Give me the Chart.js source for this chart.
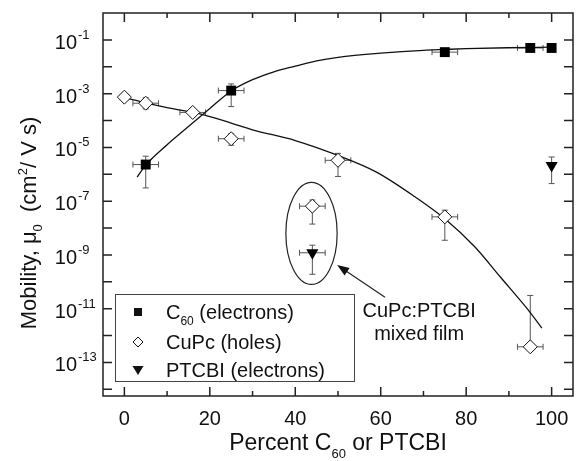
<!DOCTYPE html>
<html lang="en">
<head>
    <meta charset="UTF-8">
    <title>Mobility vs Percent C60 or PTCBI</title>
    <script src="https://cdn.jsdelivr.net/npm/chart.js"></script>
    <style>
        body, html { margin: 0; padding: 0; background: #fff; }
    </style>
</head>
<body>
    <canvas id="mobilityChart" width="581" height="461"></canvas>

    <script>
        // measured points (x = percent, y = mobility cm2/Vs)
        const c60X    = [5, 25, 75, 95, 100];
        const c60Y    = [2.3e-6, 1.3e-3, 0.035, 0.05, 0.05];
        const c60Lo   = [3.1e-7, 3.3e-4, null, null, null];
        const c60Hi   = [4.7e-6, 2.3e-3, null, null, null];
        const c60XErr = [3, 3, 3, 3, 0];

        const cupcX    = [0, 5, 16, 25, 44, 50, 75, 95];
        const cupcY    = [7.4e-4, 4.4e-4, 2.0e-4, 2.1e-5, 6.5e-8, 3.3e-6, 2.6e-8, 3.8e-13];
        const cupcLo   = [5.5e-4, 2.7e-4, 1.4e-4, 1.2e-5, 1.4e-8, 8.3e-7, 3.5e-9, null];
        const cupcHi   = [1.0e-3, 7.0e-4, 2.6e-4, 3.2e-5, 1.1e-7, 6.0e-6, 4.6e-8, 3.1e-11];
        const cupcXErr = [1, 3, 3, 3, 3, 3, 3, 3];

        const ptcbiX    = [44, 100];
        const ptcbiY    = [1.2e-9, 2.1e-6];
        const ptcbiLo   = [1.9e-10, 4.5e-7];
        const ptcbiHi   = [2.3e-9, 4.4e-6];
        const ptcbiXErr = [3, 0];

        // fit curves
        const c60FitX = [3, 5, 10, 15, 20, 25, 30, 35, 40, 45, 50, 60, 70, 75, 80, 90, 100];
        const c60FitY = [7.9e-7, 2.2e-6, 1.26e-5, 6.0e-5, 2.8e-4, 1.26e-3, 3.3e-3, 6.5e-3, 1.05e-2, 1.66e-2, 2.24e-2, 3.2e-2, 4.1e-2, 4.4e-2, 4.7e-2, 5.1e-2, 5.4e-2];
        const cupcFitX = [0, 5, 10, 17.5, 25, 30, 40, 50, 59, 68, 75, 82, 88, 94.5, 97.7];
        const cupcFitY = [7.1e-4, 4.5e-4, 3.0e-4, 1.8e-4, 8.0e-5, 4.5e-5, 1.8e-5, 5.0e-6, 1.2e-6, 1.45e-7, 2.2e-8, 2.0e-9, 1.5e-10, 9.0e-12, 1.9e-12];

        const xTicks = [0, 20, 40, 60, 80, 100];
        const yTickExp = [-1, -3, -5, -7, -9, -11, -13];

        // mixed film annotation (data coords)
        const ellipse = { x: 43.8, logY: -8.2, rx: 6, ry: 1.9 };
        const arrow = { x1: 61, y1: 10 ** -10.58, x2: 49.8, y2: 10 ** -9.38 };
        const noteLines = ['CuPc:PTCBI', 'mixed film'];
        const noteAt = [{ x: 69, y: 10 ** -11.05 }, { x: 69, y: 10 ** -11.9 }];

        const FONT = '"Liberation Sans", Arial, sans-serif';
        const pts = (xs, ys) => xs.map((x, i) => ({ x: x, y: ys[i] }));

        function runs(ctx, list, x, y, align) {
            let total = 0;
            list.forEach(r => { ctx.font = r[1] + 'px ' + FONT; total += ctx.measureText(r[0]).width; });
            let cx = align === 'center' ? x - total / 2 : (align === 'right' ? x - total : x);
            ctx.textAlign = 'left';
            ctx.textBaseline = 'alphabetic';
            list.forEach(r => {
                ctx.font = r[1] + 'px ' + FONT;
                ctx.fillText(r[0], cx, y + (r[2] || 0));
                cx += ctx.measureText(r[0]).width;
            });
        }

        const errorBars = {
            id: 'errorBars',
            beforeDatasetsDraw(chart) {
                const ctx = chart.ctx, xs = chart.scales.x, ys = chart.scales.y;
                ctx.save();
                ctx.strokeStyle = '#555';
                ctx.lineWidth = 1;
                const cap = 3;
                const groups = [
                    [c60X, c60Y, c60Lo, c60Hi, c60XErr],
                    [cupcX, cupcY, cupcLo, cupcHi, cupcXErr],
                    [ptcbiX, ptcbiY, ptcbiLo, ptcbiHi, ptcbiXErr]
                ];
                ctx.beginPath();
                groups.forEach(([X, Y, Lo, Hi, XE]) => {
                    X.forEach((xv, i) => {
                        const px = xs.getPixelForValue(xv), py = ys.getPixelForValue(Y[i]);
                        if (Lo[i] !== null) {
                            const a = ys.getPixelForValue(Hi[i]), b = ys.getPixelForValue(Lo[i]);
                            ctx.moveTo(px, a); ctx.lineTo(px, b);
                            ctx.moveTo(px - cap, a); ctx.lineTo(px + cap, a);
                            ctx.moveTo(px - cap, b); ctx.lineTo(px + cap, b);
                        } else if (Hi[i] !== null) {
                            const a = ys.getPixelForValue(Hi[i]);
                            ctx.moveTo(px, a); ctx.lineTo(px, py);
                            ctx.moveTo(px - cap, a); ctx.lineTo(px + cap, a);
                        }
                        if (XE[i]) {
                            const l = xs.getPixelForValue(xv - XE[i]), r = xs.getPixelForValue(xv + XE[i]);
                            ctx.moveTo(l, py); ctx.lineTo(r, py);
                            ctx.moveTo(l, py - cap); ctx.lineTo(l, py + cap);
                            ctx.moveTo(r, py - cap); ctx.lineTo(r, py + cap);
                        }
                    });
                });
                ctx.stroke();
                ctx.restore();
            }
        };

        const decorations = {
            id: 'decorations',
            afterDraw(chart) {
                const ctx = chart.ctx, a = chart.chartArea, xs = chart.scales.x, ys = chart.scales.y;
                ctx.save();
                ctx.fillStyle = '#111';
                ctx.strokeStyle = '#222';

                // frame and inward ticks
                ctx.lineWidth = 1.5;
                ctx.strokeRect(a.left, a.top, a.right - a.left, a.bottom - a.top);
                ctx.beginPath();
                for (let v = 0; v <= 100; v += 10) {
                    const px = xs.getPixelForValue(v), len = v % 20 === 0 ? 9 : 5;
                    ctx.moveTo(px, a.bottom); ctx.lineTo(px, a.bottom - len);
                    ctx.moveTo(px, a.top); ctx.lineTo(px, a.top + len);
                }
                for (let e = -14; e <= -1; e++) {
                    const py = ys.getPixelForValue(10 ** e);
                    ctx.moveTo(a.left, py); ctx.lineTo(a.left + 9, py);
                    ctx.moveTo(a.right, py); ctx.lineTo(a.right - 9, py);
                }
                ctx.stroke();

                // tick labels
                xTicks.forEach(v => runs(ctx, [[String(v), 20]], xs.getPixelForValue(v), 425, 'center'));
                yTickExp.forEach(e => {
                    const py = ys.getPixelForValue(10 ** e);
                    runs(ctx, [['10', 20]], 77, py + 9, 'right');
                    runs(ctx, [['-' + Math.abs(e), 13]], 78, py - 1, 'left');
                });

                // axis titles
                runs(ctx, [['Percent C', 23], ['60', 13, 8], [' or PTCBI', 23]], (a.left + a.right) / 2, 450, 'center');
                ctx.save();
                ctx.translate(36, 223);
                ctx.rotate(-Math.PI / 2);
                runs(ctx, [['Mobility, \u03bc', 22], ['0', 13, 6], ['  (cm', 22], ['2', 13, -9], ['/ V s)', 22]], 0, 0, 'center');
                ctx.restore();

                // ellipse around mixed film points
                ctx.lineWidth = 1.2;
                const ecx = xs.getPixelForValue(ellipse.x), ecy = ys.getPixelForValue(10 ** ellipse.logY);
                const erx = xs.getPixelForValue(ellipse.x + ellipse.rx) - ecx;
                const ery = ecy - ys.getPixelForValue(10 ** (ellipse.logY + ellipse.ry));
                ctx.beginPath();
                ctx.ellipse(ecx, ecy, erx, ery, 0, 0, Math.PI * 2);
                ctx.stroke();

                // arrow
                const x1 = xs.getPixelForValue(arrow.x1), y1 = ys.getPixelForValue(arrow.y1);
                const x2 = xs.getPixelForValue(arrow.x2), y2 = ys.getPixelForValue(arrow.y2);
                const ang = Math.atan2(y2 - y1, x2 - x1);
                ctx.beginPath();
                ctx.moveTo(x1, y1); ctx.lineTo(x2 - 8 * Math.cos(ang), y2 - 8 * Math.sin(ang));
                ctx.stroke();
                ctx.beginPath();
                ctx.moveTo(x2, y2);
                ctx.lineTo(x2 - 12 * Math.cos(ang) + 4.5 * Math.sin(ang), y2 - 12 * Math.sin(ang) - 4.5 * Math.cos(ang));
                ctx.lineTo(x2 - 12 * Math.cos(ang) - 4.5 * Math.sin(ang), y2 - 12 * Math.sin(ang) + 4.5 * Math.cos(ang));
                ctx.closePath();
                ctx.fill();

                noteLines.forEach((t, i) => runs(ctx, [[t, 20]], xs.getPixelForValue(noteAt[i].x), ys.getPixelForValue(noteAt[i].y) + 7, 'center'));

                // legend box
                ctx.lineWidth = 1;
                ctx.strokeStyle = '#444';
                ctx.fillStyle = '#fff';
                ctx.fillRect(115, 294, 239, 87);
                ctx.strokeRect(115.5, 294.5, 239, 87);
                ctx.fillStyle = '#111';
                const rows = [312, 342, 370];
                ctx.fillRect(134, rows[0] - 4, 8, 8);
                ctx.beginPath();
                ctx.moveTo(138, rows[1] - 5); ctx.lineTo(143, rows[1]); ctx.lineTo(138, rows[1] + 5); ctx.lineTo(133, rows[1]);
                ctx.closePath();
                ctx.strokeStyle = '#111';
                ctx.stroke();
                ctx.beginPath();
                ctx.moveTo(132.5, rows[2] - 4); ctx.lineTo(143.5, rows[2] - 4); ctx.lineTo(138, rows[2] + 5);
                ctx.closePath();
                ctx.fill();
                runs(ctx, [['C', 20], ['60', 12, 6], [' (electrons)', 20]], 166, rows[0] + 7, 'left');
                runs(ctx, [['CuPc (holes)', 20]], 166, rows[1] + 7, 'left');
                runs(ctx, [['PTCBI (electrons)', 20]], 166, rows[2] + 7, 'left');
                ctx.restore();
            }
        };

        const ctxMob = document.getElementById('mobilityChart').getContext('2d');
        new Chart(ctxMob, {
            type: 'scatter',
            data: {
                datasets: [
                    {
                        label: 'C60 (electrons)',
                        data: pts(c60X, c60Y),
                        pointStyle: 'rect', pointRadius: 7,
                        backgroundColor: '#000', borderColor: '#000', borderWidth: 0,
                        order: 1
                    },
                    {
                        label: 'CuPc (holes)',
                        data: pts(cupcX, cupcY),
                        pointStyle: 'rectRot', pointRadius: 7,
                        backgroundColor: '#fff', borderColor: '#111', borderWidth: 1,
                        order: 1
                    },
                    {
                        label: 'PTCBI (electrons)',
                        data: pts(ptcbiX, ptcbiY),
                        pointStyle: 'triangle', rotation: 180, pointRadius: 7,
                        backgroundColor: '#000', borderColor: '#000', borderWidth: 0,
                        order: 1
                    },
                    {
                        label: 'C60 fit',
                        data: pts(c60FitX, c60FitY),
                        showLine: true, pointRadius: 0, borderColor: '#111', borderWidth: 1.3,
                        cubicInterpolationMode: 'monotone',
                        order: 2
                    },
                    {
                        label: 'CuPc fit',
                        data: pts(cupcFitX, cupcFitY),
                        showLine: true, pointRadius: 0, borderColor: '#111', borderWidth: 1.3,
                        cubicInterpolationMode: 'monotone',
                        order: 2
                    }
                ]
            },
            options: {
                responsive: false,
                animation: false,
                devicePixelRatio: 1,
                layout: { padding: { left: 103, right: 3, top: 13, bottom: 65 } },
                scales: {
                    x: { type: 'linear', min: -5, max: 105, display: false },
                    y: { type: 'logarithmic', min: Math.pow(10, -14.25), max: 1, display: false }
                },
                plugins: {
                    legend: { display: false },
                    tooltip: { enabled: false }
                }
            },
            plugins: [errorBars, decorations]
        });
    </script>
</body>
</html>
